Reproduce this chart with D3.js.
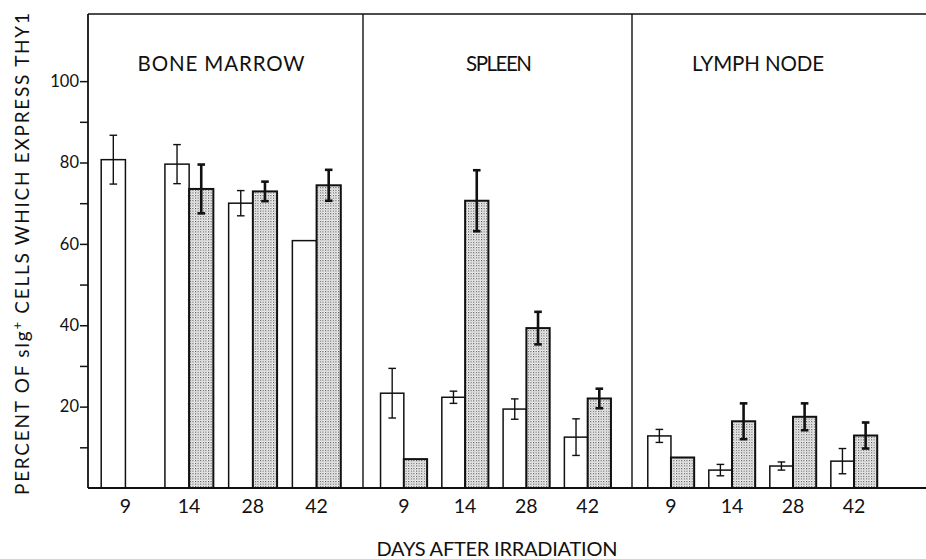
<!DOCTYPE html>
<html><head><meta charset="utf-8">
<script src="https://cdn.jsdelivr.net/npm/d3@7"></script>
<style>
html,body{margin:0;padding:0;background:#fff;}
svg{display:block;font-family:Lato,"Noto Sans",sans-serif;}
</style></head>
<body><svg id="chart" width="926" height="559"></svg>
<script>
// ---- data ----
const days = ["9", "14", "28", "42"];
const tissues = ["BONE MARROW", "SPLEEN", "LYMPH NODE"];
const whiteMeans = {
  "BONE MARROW": [80.7, 79.6, 70.0, 60.8],
  "SPLEEN":      [23.3, 22.3, 19.4, 12.5],
  "LYMPH NODE":  [12.8, 4.4, 5.4, 6.6]
};
const whiteErr = {
  "BONE MARROW": [6.0, 4.8, 3.1, 0],
  "SPLEEN":      [6.1, 1.5, 2.5, 4.5],
  "LYMPH NODE":  [1.6, 1.4, 1.0, 3.1]
};
const shadedMeans = {
  "BONE MARROW": [0, 73.5, 72.9, 74.4],
  "SPLEEN":      [7.1, 70.6, 39.3, 22.0],
  "LYMPH NODE":  [7.5, 16.4, 17.5, 12.9]
};
const shadedErr = {
  "BONE MARROW": [0, 6.0, 2.4, 3.8],
  "SPLEEN":      [0, 7.5, 4.0, 2.4],
  "LYMPH NODE":  [0, 4.4, 3.3, 3.2]
};
const yTicks = [10, 20, 30, 40, 50, 60, 70, 80, 90, 100];
const yLabels = [20, 40, 60, 80, 100];

// ---- layout ----
const svg = d3.select("#chart");
const frameTop = 14, base = 488, frameLeft = 88, frameRight = 926;
const dividers = [363, 632];
const panelBarRange = {
  "BONE MARROW": [84, 358],
  "SPLEEN": [364, 627.5],
  "LYMPH NODE": [631.3, 893.7]
};

const y = d3.scaleLinear().domain([0, 116.5]).range([base, frameTop]);

const defs = svg.append("defs");
const pat = defs.append("pattern").attr("id", "dots")
  .attr("patternUnits", "userSpaceOnUse").attr("width", 2.6).attr("height", 2.6);
pat.append("rect").attr("width", 2.6).attr("height", 2.6).attr("fill", "#fff");
pat.append("rect").attr("x", 0).attr("y", 0).attr("width", 1.1).attr("height", 1.1).attr("fill", "#3a3a3a");
pat.append("rect").attr("x", 1.3).attr("y", 1.3).attr("width", 0.9).attr("height", 0.9).attr("fill", "#7a7a7a");

// frame
svg.append("line").attr("x1", frameLeft).attr("x2", frameRight).attr("y1", frameTop).attr("y2", frameTop)
  .attr("stroke", "#111").attr("stroke-width", 1.6);
dividers.forEach(xd => svg.append("line").attr("x1", xd).attr("x2", xd)
  .attr("y1", frameTop).attr("y2", base).attr("stroke", "#111").attr("stroke-width", 1.4));

// y axis
const yAxis = d3.axisLeft(y).tickValues(yTicks).tickSize(8)
  .tickFormat(d => yLabels.includes(d) ? d : "");
const ga = svg.append("g").attr("transform", `translate(${frameLeft},0)`).call(yAxis);
ga.select(".domain").attr("stroke", "#111").attr("stroke-width", 1.8)
  .attr("d", `M0,${frameTop}V${base}`);
ga.selectAll(".tick line").attr("stroke", "#111").attr("stroke-width", 1.5);
ga.selectAll(".tick text").attr("x", -9).attr("font-size", 16.5)
  .attr("font-family", "Lato, 'Noto Sans', sans-serif").attr("fill", "#111");

// panels
tissues.forEach(t => {
  const x = d3.scalePoint().domain(days).range(panelBarRange[t]).padding(0.65);
  const step = x.step();
  const bw = step * 0.38;
  const g = svg.append("g");

  days.forEach((d, i) => {
    const cx = x(d);
    // white bar
    g.append("rect").attr("x", cx - bw).attr("y", y(whiteMeans[t][i]))
      .attr("width", bw).attr("height", base - y(whiteMeans[t][i]))
      .attr("fill", "#fff").attr("stroke", "#111").attr("stroke-width", 1.5);
    // shaded bar
    g.append("rect").attr("x", cx).attr("y", y(shadedMeans[t][i]))
      .attr("width", bw).attr("height", base - y(shadedMeans[t][i]))
      .attr("fill", "url(#dots)").attr("stroke", "#111").attr("stroke-width", 2);
    // error bars
    const eb = (xc, m, e, w, cap) => {
      if (!e) return;
      g.append("line").attr("x1", xc).attr("x2", xc).attr("y1", y(m + e)).attr("y2", y(m - e))
        .attr("stroke", "#111").attr("stroke-width", w);
      [m + e, m - e].forEach(v => g.append("line").attr("x1", xc - cap).attr("x2", xc + cap)
        .attr("y1", y(v)).attr("y2", y(v)).attr("stroke", "#111").attr("stroke-width", w));
    };
    eb(cx - bw / 2, whiteMeans[t][i], whiteErr[t][i], 1.4, 3.8);
    eb(cx + bw / 2, shadedMeans[t][i], shadedErr[t][i], 2.6, 3.8);

    // x tick label
    svg.append("text").attr("x", cx).attr("y", 513).attr("text-anchor", "middle")
      .attr("font-size", 19.5).attr("fill", "#111").text(d);
  });
});

// baseline
svg.append("line").attr("x1", frameLeft).attr("x2", frameRight).attr("y1", base).attr("y2", base)
  .attr("stroke", "#111").attr("stroke-width", 1.8);

// panel titles
const titlePos = {"BONE MARROW": [221, 167], "SPLEEN": [499, 66], "LYMPH NODE": [758, 132]};
tissues.forEach(t => {
  svg.append("text").attr("x", titlePos[t][0]).attr("y", 70.5).attr("text-anchor", "middle")
    .attr("font-size", 20.5).attr("fill", "#111")
    .attr("textLength", titlePos[t][1]).attr("lengthAdjust", "spacing")
    .text(t);
});

// axis titles
svg.append("text").attr("x", 497).attr("y", 556).attr("text-anchor", "middle")
  .attr("font-size", 20).attr("fill", "#111")
  .attr("textLength", 241).attr("lengthAdjust", "spacing")
  .text("DAYS AFTER IRRADIATION");

const yt = svg.append("text")
  .attr("transform", "translate(29,254) rotate(-90)")
  .attr("text-anchor", "middle").attr("font-size", 19).attr("fill", "#111")
  .attr("textLength", 482).attr("lengthAdjust", "spacing");
yt.append("tspan").text("PERCENT OF sIg");
yt.append("tspan").attr("dy", -7).attr("font-size", 13).text("+");
yt.append("tspan").attr("dy", 7).text(" CELLS WHICH EXPRESS THY1");
</script></body></html>
